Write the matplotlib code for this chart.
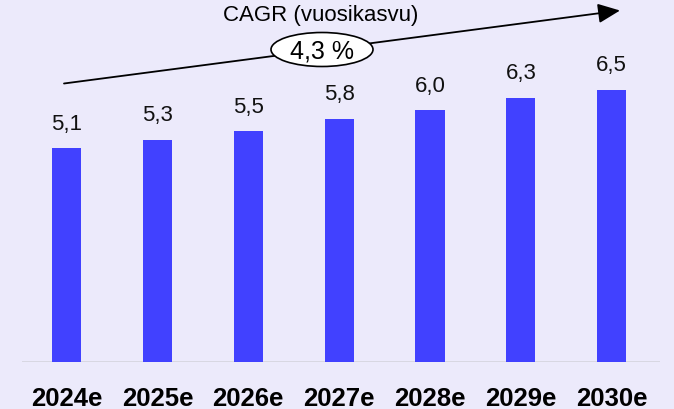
import matplotlib.pyplot as plt
from matplotlib.patches import Ellipse, FancyArrowPatch

# Data
years = ['2024e', '2025e', '2026e', '2027e', '2028e', '2029e', '2030e']
values = [5.1, 5.3, 5.5, 5.8, 6.0, 6.3, 6.5]
value_labels = ['5,1', '5,3', '5,5', '5,8', '6,0', '6,3', '6,5']
cagr_title = 'CAGR (vuosikasvu)'
cagr_label = '4,3 %'

bg = '#ECEAFB'
bar_color = '#4141FF'

plt.rcParams['font.family'] = ['Liberation Sans', 'DejaVu Sans']

fig = plt.figure(figsize=(6.74, 4.10), dpi=100, facecolor=bg)
W, H = 674, 410
ax = fig.add_axes([22 / W, 47 / H, 638 / W, 363 / H])
ax.set_facecolor(bg)

x = range(len(years))
ax.bar(x, values, width=0.32, color=bar_color, zorder=2)
ax.axhline(0, color='#D2D2DA', linewidth=1.8, zorder=1)

for i, (v, lab) in enumerate(zip(values, value_labels)):
    ax.annotate(lab, (i, v), xytext=(0, 18), textcoords='offset points',
                ha='center', va='center', fontsize=16, color='#111111')

ax.set_xlim(-0.491, 6.532)
ax.set_ylim(0, 8.66)
ax.set_xticks(list(x))
ax.set_xticklabels(years, fontsize=18.5, fontweight='bold', color='#000000')
ax.tick_params(axis='x', length=0, pad=17)
ax.set_yticks([])
for s in ax.spines.values():
    s.set_visible(False)

# overlay for CAGR arrow, in pixel coords
ov = fig.add_axes([0, 0, 1, 1])
ov.set_xlim(0, W)
ov.set_ylim(H, 0)
ov.axis('off')

arrow = FancyArrowPatch((64, 84.5), (620, 11.5), arrowstyle='-|>,head_length=0.9,head_width=0.4',
                        mutation_scale=15, color='black', linewidth=1.3, shrinkA=0, shrinkB=0)
ov.add_patch(arrow)
ov.add_patch(Ellipse((322, 50.5), 102, 34, facecolor='white', edgecolor='black',
                     linewidth=1.2, zorder=3))
ov.text(322, 51, cagr_label, ha='center', va='center', fontsize=18, zorder=4)
ov.text(321, 16, cagr_title, ha='center', va='center', fontsize=16)

fig.savefig('out.png', dpi=100, facecolor=bg)
